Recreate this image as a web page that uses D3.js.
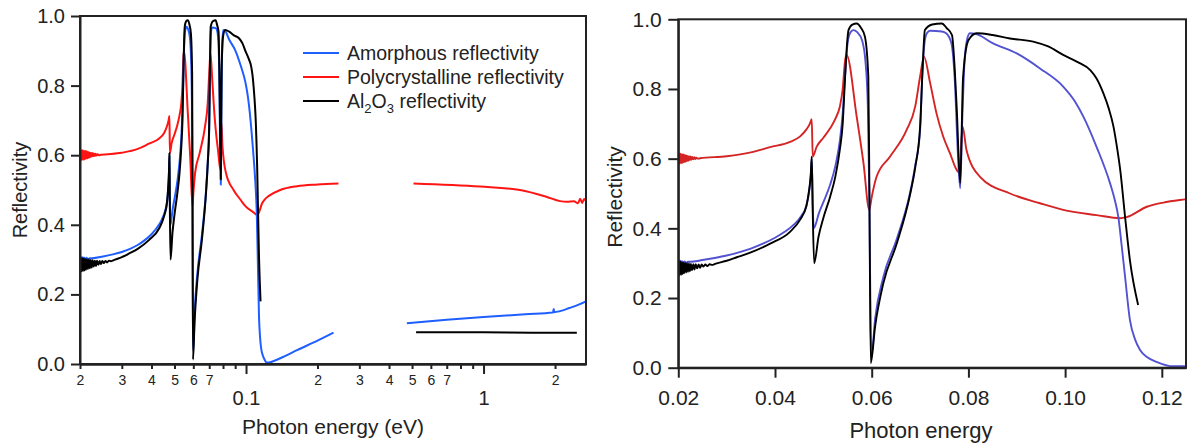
<!DOCTYPE html>
<html>
<head>
<meta charset="utf-8">
<script src="https://cdn.jsdelivr.net/npm/d3@7"></script>
<style>
body { margin: 0; background: #fff; }
text { font-family: "Liberation Sans", Arial, sans-serif; fill: #222; }
</style>
</head>
<body>
<script>
// photon energy (eV), reflectivity -- null marks a gap in the measurement
var amorphous = [
  [0.0200,0.295],[0.02015,0.308],[0.0203,0.296],[0.02045,0.307],[0.0206,0.297],[0.0208,0.306],[0.0210,0.298],
  [0.0213,0.305],[0.0216,0.300],[0.0220,0.304],
  [0.0225,0.304],[0.025,0.309],[0.0275,0.315],[0.030,0.322],[0.0325,0.331],[0.035,0.342],[0.0375,0.356],
  [0.040,0.373],[0.042,0.390],[0.044,0.412],[0.0455,0.437],[0.0465,0.465],[0.047,0.50],[0.0474,0.55],
  [0.0476,0.60],[0.0478,0.47],[0.0480,0.40],[0.0485,0.415],[0.049,0.44],[0.050,0.475],[0.0514,0.525],
  [0.0525,0.58],[0.0534,0.65],[0.054,0.73],[0.0545,0.84],[0.055,0.93],[0.0555,0.96],[0.0562,0.969],
  [0.057,0.963],[0.058,0.94],[0.0587,0.88],[0.0592,0.75],[0.0595,0.50],[0.0598,0.10],[0.0600,0.04],
  [0.0607,0.14],[0.0624,0.26],[0.0652,0.37],[0.0679,0.50],[0.069,0.58],[0.070,0.68],[0.0705,0.85],
  [0.071,0.94],[0.0715,0.962],[0.0721,0.967],[0.0745,0.965],[0.0754,0.96],[0.0765,0.93],[0.0772,0.82],
  [0.0778,0.62],[0.0783,0.515],[0.0787,0.70],[0.0792,0.88],[0.0797,0.94],[0.0803,0.96],[0.0815,0.958],
  [0.0851,0.931],[0.090,0.902],[0.0948,0.859],[0.0996,0.807],[0.102,0.765],[0.1038,0.72],[0.1065,0.634],
  [0.1093,0.529],[0.1103,0.48],[0.111,0.433],[0.1117,0.35],[0.1124,0.261],[0.1134,0.137],[0.1145,0.08],
  [0.1155,0.051],[0.117,0.03],[0.1189,0.017],[0.1223,0.004],[0.125,0.004],
  [0.13,0.008],[0.145,0.022],[0.164,0.04],[0.2,0.067],[0.2335,0.09],[0.35,null],
  [0.4755,0.117],[0.7,0.127],[1.0,0.135],[1.5,0.143],[1.96,0.148],[1.975,0.158],[1.985,0.149],
  [2.1,0.152],[2.3,0.161],[2.5,0.170],[2.7,0.180]
];

var polycrystalline = [
  [0.02000,0.585],[0.02015,0.615],[0.02030,0.586],[0.02045,0.614],[0.02060,0.587],[0.02075,0.613],
  [0.02090,0.588],[0.02105,0.612],[0.02120,0.590],[0.02135,0.611],[0.02150,0.591],[0.02165,0.609],
  [0.02180,0.593],[0.02195,0.608],[0.02210,0.594],[0.02225,0.607],[0.02240,0.596],[0.02255,0.606],
  [0.02270,0.597],[0.02290,0.605],[0.02310,0.598],[0.02330,0.604],[0.02350,0.599],[0.02375,0.603],
  [0.02400,0.600],[0.02450,0.601],
  [0.030,0.607],[0.035,0.618],[0.039,0.633],[0.0431,0.648],[0.0452,0.664],[0.0465,0.684],
  [0.0472,0.70],[0.0476,0.713],[0.0478,0.606],[0.0486,0.634],[0.050,0.66],[0.0514,0.687],[0.0525,0.715],
  [0.0534,0.749],[0.054,0.80],[0.0545,0.883],[0.0548,0.898],[0.0569,0.72],[0.0583,0.587],[0.0595,0.453],
  [0.060,0.49],[0.061,0.548],[0.0638,0.606],[0.0672,0.682],[0.069,0.75],[0.070,0.835],[0.0708,0.893],
  [0.0721,0.816],[0.0734,0.73],[0.0748,0.663],[0.0762,0.615],[0.0776,0.567],[0.0781,0.56],[0.0788,0.692],
  [0.0796,0.625],[0.0824,0.548],[0.0886,0.50],[0.0948,0.472],[0.0996,0.453],[0.1065,0.438],[0.1114,0.429],
  [0.1127,0.432],[0.1169,0.462],[0.1203,0.474],[0.1248,0.483],[0.1393,0.50],[0.164,0.511],[0.2,0.516],
  [0.245,0.519],[0.35,null],
  [0.507,0.519],[0.968,0.51],[1.426,0.50],[1.849,0.48],[2.1,0.468],[2.245,0.466],[2.4,0.468],
  [2.5,0.462],[2.55,0.475],[2.6,0.463],[2.65,0.474],[2.7,0.468]
];

var sapphire = [
  [0.02000,0.264],[0.02015,0.305],[0.02030,0.266],[0.02045,0.304],[0.02060,0.267],[0.02075,0.303],
  [0.02090,0.269],[0.02105,0.302],[0.02120,0.271],[0.02140,0.301],[0.02160,0.273],[0.02180,0.300],
  [0.02200,0.275],[0.02220,0.299],[0.02240,0.277],[0.02260,0.298],[0.02285,0.280],[0.02310,0.297],
  [0.02335,0.282],[0.02360,0.297],[0.02390,0.285],[0.02420,0.296],[0.02450,0.287],[0.02485,0.296],
  [0.02520,0.290],[0.02560,0.296],[0.02600,0.292],[0.02650,0.297],[0.02700,0.295],[0.02760,0.298],
  [0.030,0.307],[0.0321,0.317],[0.035,0.331],
  [0.039,0.356],[0.0431,0.39],[0.0452,0.425],[0.0465,0.465],[0.047,0.505],[0.0474,0.555],[0.0476,0.606],
  [0.0478,0.45],[0.0481,0.30],[0.0490,0.376],[0.050,0.43],[0.0514,0.491],[0.0525,0.55],[0.0534,0.625],
  [0.054,0.70],[0.0545,0.835],[0.0549,0.93],[0.0552,0.969],[0.056,0.985],[0.0569,0.988],[0.0578,0.975],
  [0.0586,0.95],[0.0593,0.835],[0.0595,0.55],[0.0598,0.013],[0.0607,0.118],[0.0624,0.242],[0.0652,0.357],
  [0.0679,0.495],[0.069,0.575],[0.070,0.69],[0.0705,0.85],[0.071,0.969],[0.0725,0.985],[0.0745,0.988],
  [0.0755,0.975],[0.0766,0.955],[0.0772,0.85],[0.0776,0.74],[0.0783,0.53],[0.0789,0.835],[0.080,0.94],
  [0.0817,0.96],[0.085,0.955],[0.0886,0.945],[0.0934,0.936],[0.0965,0.922],[0.0996,0.898],[0.1025,0.878],
  [0.1052,0.854],[0.1065,0.83],[0.1079,0.788],[0.109,0.745],[0.110,0.692],[0.1107,0.635],[0.1114,0.567],
  [0.1124,0.433],[0.1134,0.309],[0.1151,0.18],[0.3,null],
  [0.52,0.091],[1.0,0.091],[1.6,0.090],[2.47,0.090]
];

var yTicks = [0, 0.2, 0.4, 0.6, 0.8, 1.0];
var logMinorTicks = [0.02,0.03,0.04,0.05,0.06,0.07,0.08,0.09,0.2,0.3,0.4,0.5,0.6,0.7,0.8,0.9,2];
var logMinorLabels = ['2','3','4','5','6','7','','','2','3','4','5','6','7','','','2'];
var logMajorTicks = [0.1, 1];
var logMajorLabels = ['0.1', '1'];
var linTicks = [0.02, 0.04, 0.06, 0.08, 0.10, 0.12];
var linTickLabels = ['0.02', '0.04', '0.06', '0.08', '0.10', '0.12'];
var legendNames = ['Amorphous reflectivity', 'Polycrystalline reflectivity', 'Al2O3 reflectivity'];

var svg = d3.select("body").append("svg")
  .attr("width", 1190)
  .attr("height", 444);

function drawPanel(id, x, y, series, colors, width) {
  var g = svg.append("g");
  var xr = x.range(), yr = y.range();
  g.append("clipPath").attr("id", id)
    .append("rect")
    .attr("x", xr[0]).attr("y", yr[1])
    .attr("width", xr[1] - xr[0]).attr("height", yr[0] - yr[1]);

  var line = d3.line()
    .defined(function(d) { return d[1] !== null; })
    .curve(d3.curveMonotoneX)
    .x(function(d) { return x(d[0]); })
    .y(function(d) { return y(d[1]); });

  g.append("g").attr("clip-path", "url(#" + id + ")")
    .selectAll("path")
    .data(series)
    .enter().append("path")
    .attr("d", line)
    .attr("fill", "none")
    .attr("stroke", function(d, i) { return colors[i]; })
    .attr("stroke-width", width)
    .attr("stroke-linejoin", "round");

  g.append("rect")
    .attr("x", xr[0]).attr("y", yr[1])
    .attr("width", xr[1] - xr[0]).attr("height", yr[0] - yr[1])
    .attr("fill", "none")
    .attr("stroke", "#222")
    .attr("stroke-width", 2);
  return g;
}

function styleAxis(sel, size) {
  sel.selectAll("path, line").attr("stroke", "#222").attr("stroke-width", 2);
  sel.selectAll("text").attr("font-size", size).attr("fill", "#222")
    .attr("font-family", '"Liberation Sans", Arial, sans-serif');
}

// ---------- left panel: log energy axis ----------
var xLog = d3.scaleLog().domain([0.02, 2.7]).range([80, 586]);
var yLeft = d3.scaleLinear().domain([0, 1]).range([364, 16]);
var left = drawPanel("clipL", xLog, yLeft,
  [polycrystalline, amorphous, sapphire], ["#ff1414", "#1f5eff", "#000"], 2);

left.append("g").attr("transform", "translate(0,364)")
  .call(d3.axisBottom(xLog).tickValues(logMinorTicks)
    .tickFormat(function(d, i) { return logMinorLabels[i]; })
    .tickSize(5).tickSizeOuter(0).tickPadding(6))
  .call(styleAxis, 14);
left.append("g").attr("transform", "translate(0,364)")
  .call(d3.axisBottom(xLog).tickValues(logMajorTicks)
    .tickFormat(function(d, i) { return logMajorLabels[i]; })
    .tickSize(10).tickSizeOuter(0).tickPadding(17))
  .call(styleAxis, 20);
left.append("g").attr("transform", "translate(80,0)")
  .call(d3.axisLeft(yLeft).tickValues(yTicks).tickFormat(d3.format(".1f"))
    .tickSize(9).tickSizeOuter(0).tickPadding(6))
  .call(styleAxis, 20);

left.append("text").attr("x", 333).attr("y", 434)
  .attr("text-anchor", "middle").attr("font-size", 21)
  .text("Photon energy (eV)");
left.append("text").attr("transform", "translate(27,190) rotate(-90)")
  .attr("text-anchor", "middle").attr("font-size", 20)
  .text("Reflectivity");

// legend
var legendColors = ["#1f5eff", "#ff1414", "#000"];
var legend = left.selectAll(".legend")
  .data(legendNames)
  .enter().append("g")
  .attr("transform", function(d, i) { return "translate(303," + (53 + i * 24) + ")"; });
legend.append("line")
  .attr("x1", 0).attr("x2", 36)
  .attr("stroke", function(d, i) { return legendColors[i]; })
  .attr("stroke-width", 2);
legend.append("text")
  .attr("x", 44).attr("dy", "0.35em").attr("font-size", 19.5)
  .each(function(d) {
    var t = d3.select(this);
    if (d.indexOf("Al2O3") === 0) {
      t.append("tspan").text("Al");
      t.append("tspan").attr("font-size", 13).attr("dy", 5).text("2");
      t.append("tspan").attr("dy", -5).text("O");
      t.append("tspan").attr("font-size", 13).attr("dy", 5).text("3");
      t.append("tspan").attr("dy", -5).text(d.slice(5));
    } else {
      t.text(d);
    }
  });

// ---------- right panel: linear energy axis ----------
var xLin = d3.scaleLinear().domain([0.02, 0.125]).range([678.3, 1186]);
var yRight = d3.scaleLinear().domain([0, 1]).range([367.7, 19.3]);
var right = drawPanel("clipR", xLin, yRight,
  [polycrystalline, amorphous, sapphire], ["#d42424", "#5252d2", "#000"], 1.9);

right.append("g").attr("transform", "translate(0,367.7)")
  .call(d3.axisBottom(xLin).tickValues(linTicks)
    .tickFormat(function(d, i) { return linTickLabels[i]; })
    .tickSize(10).tickSizeOuter(0).tickPadding(12))
  .call(styleAxis, 21);
right.append("g").attr("transform", "translate(678.3,0)")
  .call(d3.axisLeft(yRight).tickValues(yTicks).tickFormat(d3.format(".1f"))
    .tickSize(10).tickSizeOuter(0).tickPadding(6.5))
  .call(styleAxis, 21);

right.append("text").attr("x", 921).attr("y", 438)
  .attr("text-anchor", "middle").attr("font-size", 22)
  .text("Photon energy");
right.append("text").attr("transform", "translate(622,197) rotate(-90)")
  .attr("text-anchor", "middle").attr("font-size", 21)
  .text("Reflectivity");
</script>
</body>
</html>
